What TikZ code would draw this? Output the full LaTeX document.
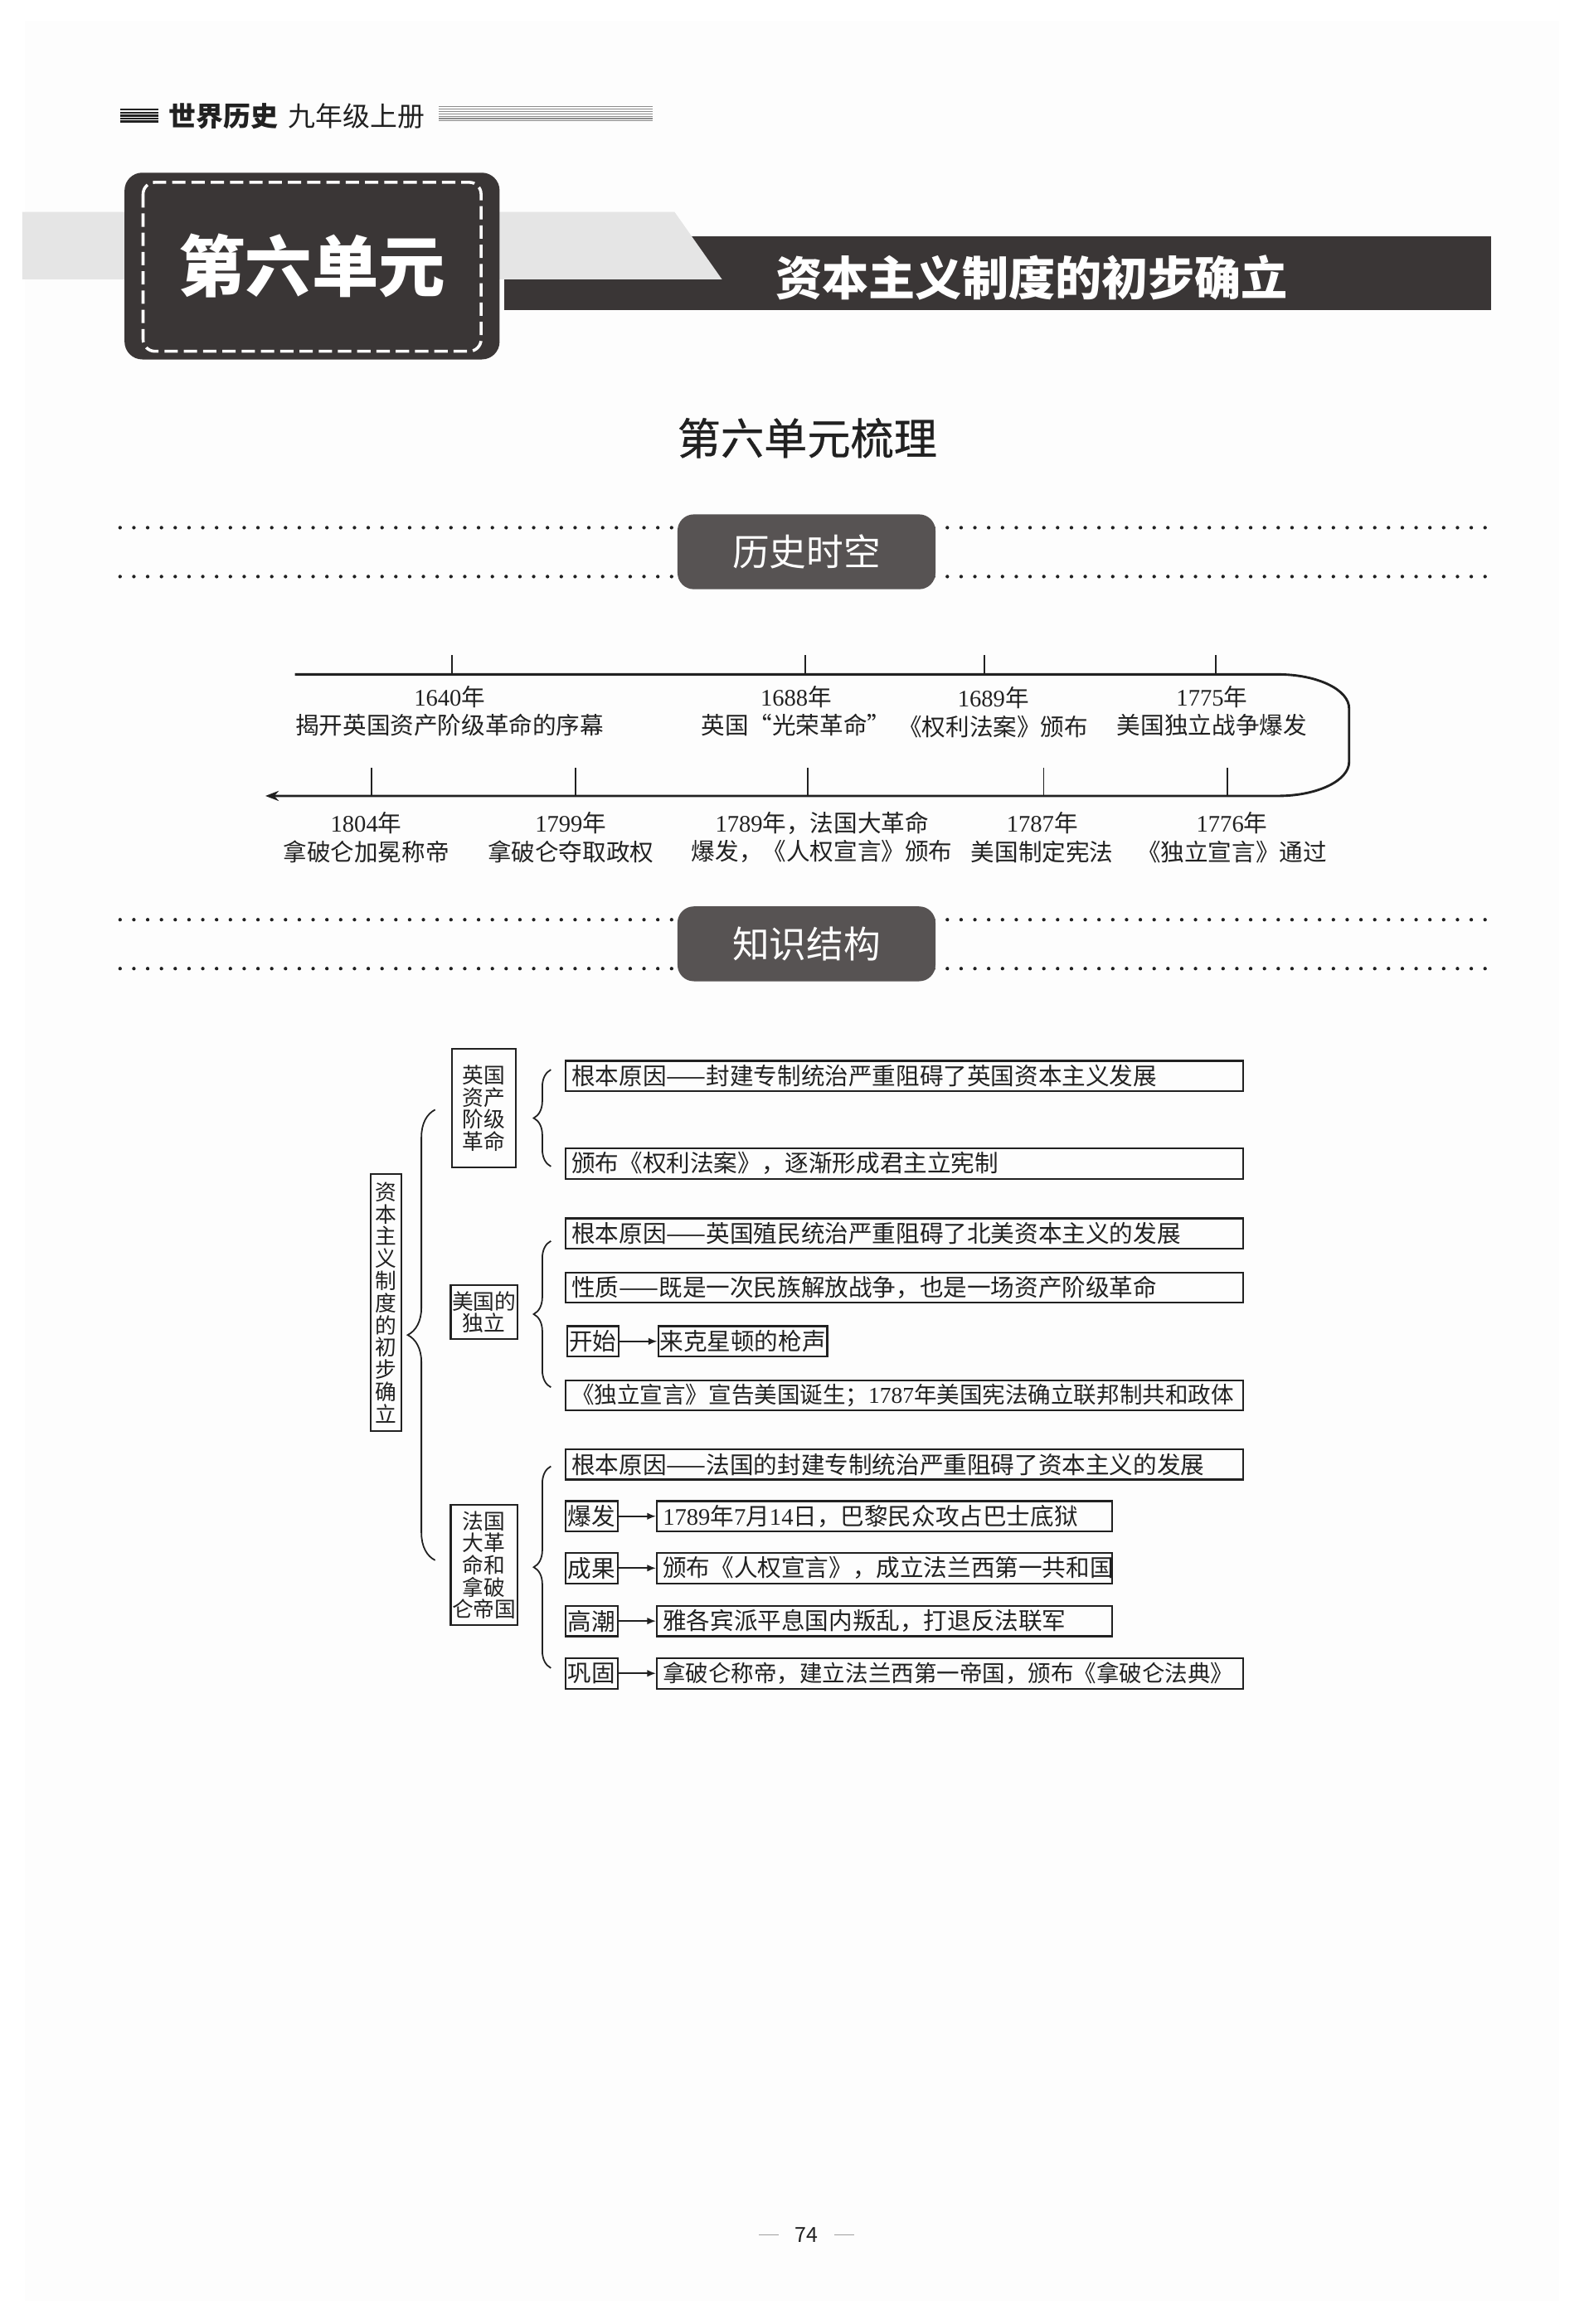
\documentclass[tikz,border=0pt]{standalone}
\usepackage{fontspec}
\setmainfont{Noto Sans CJK SC}
\newfontfamily\yearfont{Liberation Serif}
\newfontfamily\medfont{Noto Sans CJK SC}[FakeBold=0.6]
\usetikzlibrary{arrows.meta,positioning,decorations.pathreplacing}
\definecolor{unitDark}  {HTML}{3A3636}
\definecolor{tagDark}   {HTML}{575353}
\definecolor{bandLight} {gray}{0.90}
\definecolor{stripeMid} {gray}{0.55}
\definecolor{pageTint}  {gray}{0.992}
\definecolor{inkDark}   {gray}{0.13}
\definecolor{footMid}   {gray}{0.62}
\newcommand{\yr}[1]{{\yearfont #1}}

\begin{document}
\begin{tikzpicture}[x=0.5pt, y=-0.5pt,
      every node/.style={text=inkDark},
      unitbox/.style={fill=unitDark, rounded corners=6pt, minimum width=126.5pt,
                      minimum height=63pt, inner sep=0pt, text=white,
                      font=\fontsize{22.5}{26}\selectfont\bfseries},
      sechead/.style={fill=tagDark, rounded corners=5.5pt, minimum width=87pt,
                      minimum height=25.25pt, inner sep=0pt, text=white,
                      font=\fontsize{12.5}{14}\selectfont},
      dotrule/.style={draw=inkDark, line width=1.2pt, line cap=round,
                      dash pattern=on 0pt off 4.65pt},
      tline/.style={draw=inkDark, line width=0.8pt},
      tick/.style={draw=inkDark, line width=0.5pt},
      tlabel/.style={align=center, inner sep=0pt,
                     font=\fontsize{8}{9.65}\selectfont},
      vbox/.style={draw=inkDark, line width=0.6pt, align=center, inner sep=0pt,
                   font=\fontsize{7.2}{7.45}\selectfont},
      item/.style={draw=inkDark, line width=0.6pt, anchor=west, align=left,
                   inner xsep=2pt, inner ysep=0pt, minimum height=10.25pt,
                   font=\fontsize{8}{9}\selectfont},
      tag/.style={draw=inkDark, line width=0.6pt, anchor=west, inner sep=0pt,
                  minimum width=17.5pt, minimum height=10.25pt,
                  font=\fontsize{8}{9}\selectfont},
      arrow/.style={-{Latex[length=3pt,width=2.4pt]}, draw=inkDark, line width=0.5pt},
      brace/.style={decorate, draw=inkDark, line width=0.5pt}]

    \useasboundingbox (0,0) rectangle (1068,1568);
    \fill[white] (0,0) rectangle (1068,1568);
    \fill[pageTint] (16.8,14) rectangle (1051.8,1552.5);

    % running head
    \foreach \i in {0,...,4}
      \draw[inkDark, line width=0.65pt] (81,{74+2*\i}) -- (107,{74+2*\i});
    \foreach \i in {0,...,6}
      \draw[stripeMid, line width=0.3pt] (296,{72+1.6*\i}) -- (440,{72+1.6*\i});
    \node[anchor=west, inner sep=0pt, font=\fontsize{9.2}{11}\selectfont\bfseries]
      (subject) at (113.5,78.3) {世界历史};
    \node[anchor=west, inner sep=0pt, font=\fontsize{9.2}{11}\selectfont]
      (grade) at (194,78.3) {九年级上册};

    % unit banner
    \fill[unitDark] (340,159.5) rectangle (1006,209);
    \fill[bandLight] (15,143) -- (455,143) -- (487,188.5) -- (15,188.5) -- cycle;
    \node[unitbox] (unitno) at (210.5,179.5) {第六单元};
    \draw[white, line width=1pt, dash pattern=on 4.5pt off 2pt, rounded corners=4pt]
      (96.5,123) rectangle (324.5,237);
    \node[text=white, font=\fontsize{15.7}{18}\selectfont\bfseries]
      (unittitle) at (696,187.6) {资本主义制度的初步确立};

    \node[font=\fontsize{14.6}{16}\selectfont\medfont] (review) at (544.5,295.5) {第六单元梳理};

    % section: timeline
    \draw[dotrule] (81,356) -- (1005,356);
    \draw[dotrule] (81,389) -- (1005,389);
    \node[sechead] (timehead) at (544,372.3) {历史时空};

    \coordinate (tlBegin) at (199,455);
    \coordinate (tlEnd)   at (179,537);
    \draw[tline, -{Stealth[length=4.5pt,width=3.4pt]}] (tlBegin) -- (862,455)
      .. controls (888.5,455) and (910,465.3) .. (910,478) -- (910,514)
      .. controls (910,526.7) and (888.5,537) .. (862,537) -- (tlEnd);
    \foreach \x in {305,543,664,820}
      \draw[tick] (\x,442) -- (\x,455);
    \foreach \x in {250.5,388,545,704,828}
      \draw[tick] (\x,518) -- (\x,537);

    \node[tlabel] (e1640) at (303.3,479.7) {\yr{1640}年\\揭开英国资产阶级革命的序幕};
    \node[tlabel] (e1688) at (537,479.7)   {\yr{1688}年\\英国“光荣革命”};
    \node[tlabel] (e1689) at (670,480.5)   {\yr{1689}年\\《权利法案》颁布};
    \node[tlabel] (e1775) at (817.5,479.7) {\yr{1775}年\\美国独立战争爆发};
    \node[tlabel] (e1804) at (247,565)     {\yr{1804}年\\拿破仑加冕称帝};
    \node[tlabel] (e1799) at (385,565)     {\yr{1799}年\\拿破仑夺取政权};
    \node[tlabel] (e1789) at (554.5,565)   {\yr{1789}年，法国大革命\\爆发，《人权宣言》颁布};
    \node[tlabel] (e1787) at (703,565)     {\yr{1787}年\\美国制定宪法};
    \node[tlabel] (e1776) at (831,565)     {\yr{1776}年\\《独立宣言》通过};

    % section: knowledge map
    \draw[dotrule] (81,620.5) -- (1005,620.5);
    \draw[dotrule] (81,653.5) -- (1005,653.5);
    \node[sechead] (knowhead) at (544,636.8) {知识结构};

    \node[vbox, minimum width=10.25pt, minimum height=86.8pt, font=\fontsize{7.2}{7.5}\selectfont]
      (root) at (260.5,878.8) {资\\本\\主\\义\\制\\度\\的\\初\\步\\确\\立};
    \node[vbox, minimum width=21.5pt, minimum height=40pt]
      (england) at (326.5,747.7) {英国\\资产\\阶级\\革命};
    \node[vbox, minimum width=22.5pt, minimum height=18.25pt]
      (america) at (326.5,885.3) {美国的\\独立};
    \node[vbox, minimum width=22.5pt, minimum height=40.5pt]
      (france) at (326.5,1056) {法国\\大革\\命和\\拿破\\仑帝国};

    \coordinate (bigTop) at (293.5,748.7);
    \coordinate (bigBot) at (293.5,1052.7);
    \coordinate (engTop) at (371.6,721.7);
    \coordinate (engBot) at (371.6,787);
    \coordinate (amTop)  at (371.6,837.3);
    \coordinate (amBot)  at (371.6,936);
    \coordinate (frTop)  at (371.6,989.3);
    \coordinate (frBot)  at (371.6,1125.4);
    \draw[brace, decoration={brace, amplitude=9.25pt}] (bigBot) -- (bigTop);
    \draw[brace, decoration={brace, amplitude=5.8pt}] (engBot) -- (engTop);
    \draw[brace, decoration={brace, amplitude=5.8pt}] (amBot) -- (amTop);
    \draw[brace, decoration={brace, amplitude=5.8pt}] (frBot) -- (frTop);

    \node[item, text width=224.5pt] (engCause) at (381,726)
      {根本原因——封建专制统治严重阻碍了英国资本主义发展};
    \node[item, text width=224.5pt] (engBill) at (381,785)
      {颁布《权利法案》，逐渐形成君主立宪制};

    \node[item, text width=224.5pt] (amCause) at (381,832.3)
      {根本原因——英国殖民统治严重阻碍了北美资本主义的发展};
    \node[item, text width=224.5pt] (amNature) at (381,868.7)
      {性质——既是一次民族解放战争，也是一场资产阶级革命};
    \node[tag] (amStart) at (381.8,905) {开始};
    \node[item, inner xsep=0.5pt] (amShot) at (443.4,905) {来克星顿的枪声};
    \node[item, text width=224.5pt, font=\fontsize{7.7}{9}\selectfont] (amDecl) at (381,941.5)
      {《独立宣言》宣告美国诞生；\yr{1787}年美国宪法确立联邦制共和政体};

    \node[item, text width=224.5pt] (frCause) at (381,988)
      {根本原因——法国的封建专制统治严重阻碍了资本主义的发展};
    \node[tag] (frOutbreak) at (381,1023) {爆发};
    \node[item, text width=149.5pt] (frBastille) at (442.5,1023)
      {\yr{1789}年\yr{7}月\yr{14}日，巴黎民众攻占巴士底狱};
    \node[tag] (frResult) at (381,1058) {成果};
    \node[item, text width=149.5pt] (frRepublic) at (442.5,1058)
      {颁布《人权宣言》，成立法兰西第一共和国};
    \node[tag] (frClimax) at (381,1093.7) {高潮};
    \node[item, text width=149.5pt] (frJacobin) at (442.5,1093.7)
      {雅各宾派平息国内叛乱，打退反法联军};
    \node[tag] (frConsol) at (381,1129) {巩固};
    \node[item, text width=193.75pt, font=\fontsize{7.7}{9}\selectfont] (frEmpire) at (442.5,1129)
      {拿破仑称帝，建立法兰西第一帝国，颁布《拿破仑法典》};

    \draw[arrow] (amStart)    -- (amShot);
    \draw[arrow] (frOutbreak) -- (frBastille);
    \draw[arrow] (frResult)   -- (frRepublic);
    \draw[arrow] (frClimax)   -- (frJacobin);
    \draw[arrow] (frConsol)   -- (frEmpire);

    % folio
    \node[font=\fontsize{7}{8}\selectfont] (folio) at (544,1508) {74};
    \draw[footMid, line width=0.4pt] (512,1508) -- (525,1508);
    \draw[footMid, line width=0.4pt] (563,1508) -- (576,1508);
  \end{tikzpicture}
\end{document}
